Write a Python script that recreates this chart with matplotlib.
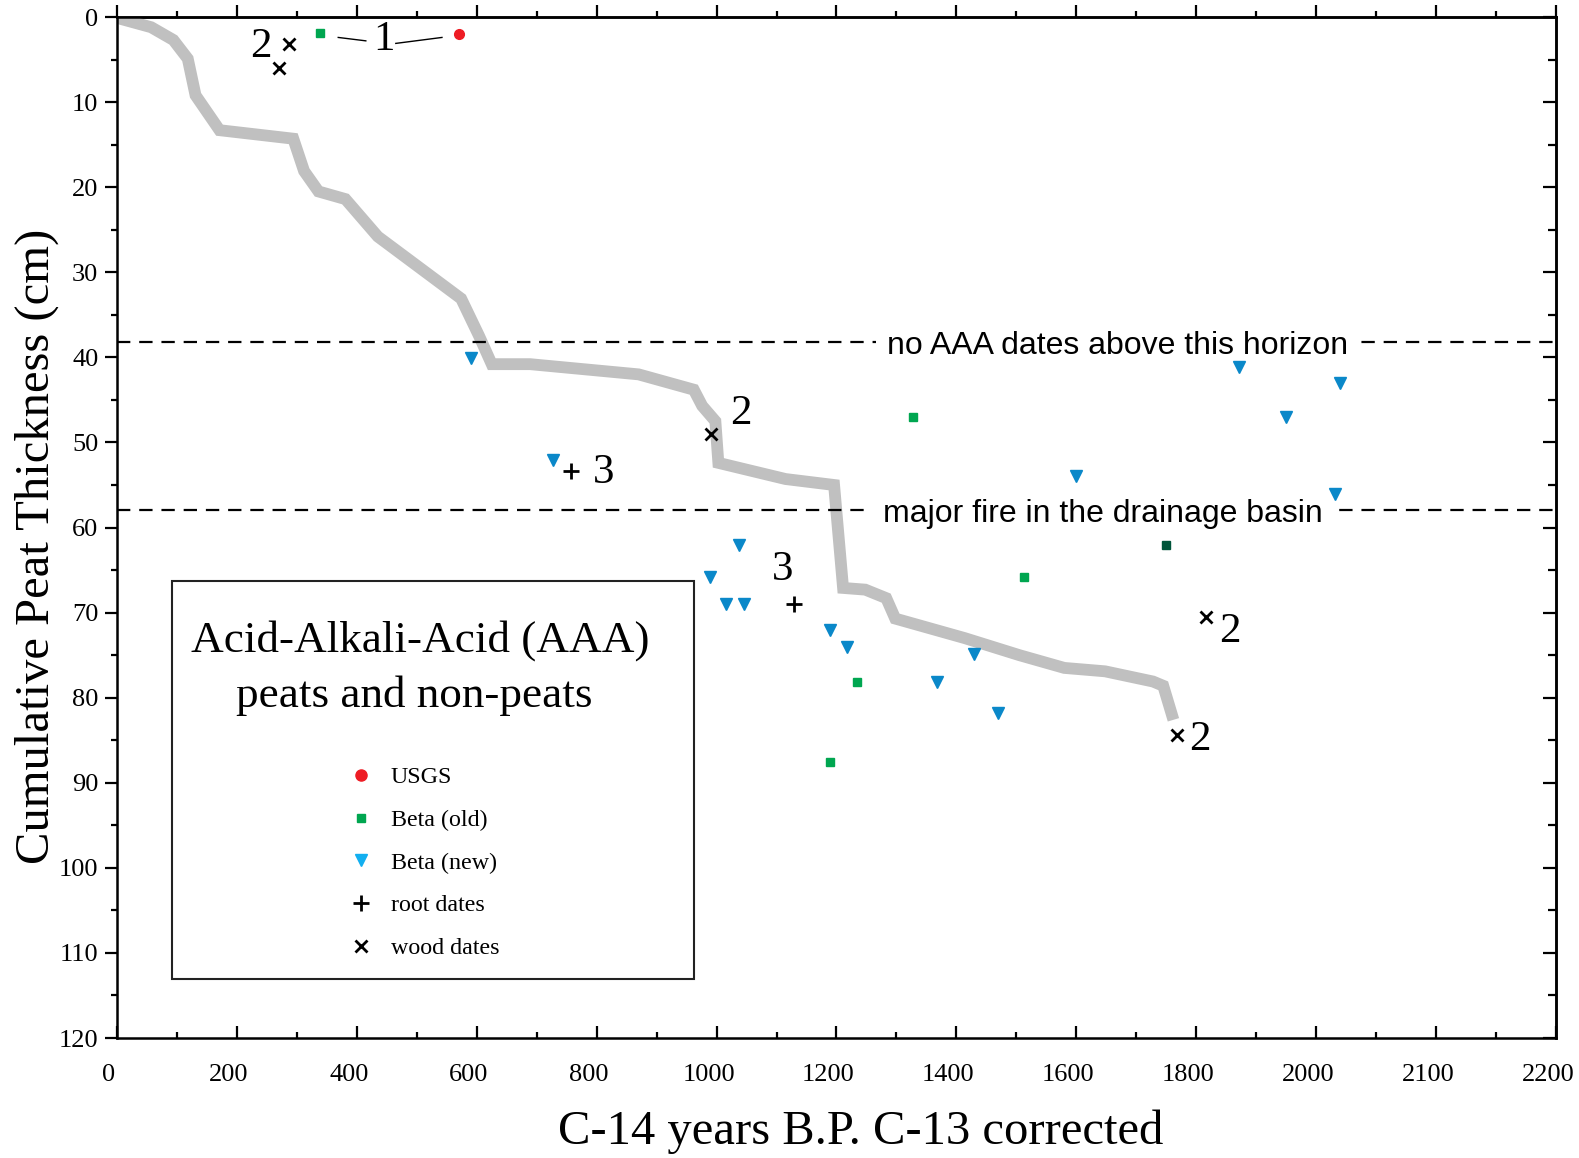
import matplotlib.pyplot as plt
from matplotlib.ticker import MultipleLocator
from matplotlib.lines import Line2D
from matplotlib.patches import Rectangle
from matplotlib.transforms import ScaledTranslation

# age-depth curve (C-14 yr, cm)
curve_x = [0, 57, 94, 118, 131, 171, 294, 312, 336, 381, 435, 574, 604, 625,
           689, 870, 962, 976, 998, 1003, 1056, 1115, 1196, 1211, 1248, 1283,
           1298, 1414, 1505, 1580, 1648, 1728, 1745, 1762]
curve_y = [0.1, 1.2, 2.7, 4.9, 9.2, 13.3, 14.3, 18.1, 20.5, 21.4, 25.8, 33.1,
           37.5, 40.8, 40.8, 42.0, 43.8, 45.7, 47.5, 52.4, 53.3, 54.3, 55.0,
           67.1, 67.3, 68.3, 70.7, 73.0, 75.0, 76.5, 76.9, 78.1, 78.6, 82.6]

usgs_x = [571]
usgs_y = [2.0]

beta_old_x = [338, 1328, 1512, 1234, 1189]
beta_old_y = [1.9, 47.0, 65.8, 78.1, 87.5]
beta_dark_x = [1750]
beta_dark_y = [62.1]

beta_new_x = [590, 727, 1038, 989, 1016, 1046, 1189, 1218, 1367, 1429, 1470,
              1599, 1871, 1950, 2039, 2031]
beta_new_y = [40.1, 52.1, 62.0, 65.8, 69.0, 69.0, 72.1, 74.0, 78.1, 74.9, 81.8,
              54.0, 41.1, 47.0, 43.0, 56.1]

root_x = [757, 1129]
root_y = [53.3, 69.0]

wood_x = [287, 270, 991, 1816, 1768]
wood_y = [3.2, 6.0, 49.0, 70.5, 84.4]

# sample count labels
count_text = ["2", "1", "2", "3", "3", "2", "2"]
count_x = [240, 445, 1040, 812, 1110, 1856, 1806]
count_y = [3.5, 2.7, 46.6, 53.6, 65.0, 72.2, 84.9]

horizon_y = [38.2, 57.9]
horizon_text = ["no AAA dates above this horizon", "major fire in the drainage basin"]
horizon_text_x = [1669, 1644]

x_ticks = list(range(0, 2401, 200))
x_tick_labels = ["0", "200", "400", "600", "800", "1000", "1200", "1400",
                 "1600", "1800", "2000", "2100", "2200"]

SERIF = "Liberation Serif"
SANS = "Liberation Sans"

fig = plt.figure(figsize=(15.79, 11.58), dpi=100)
ax = fig.add_axes([0.0741, 0.1036, 0.9113, 0.8817])

ax.plot(curve_x, curve_y, color="#c0c0c0", lw=8.5, zorder=2,
        solid_joinstyle="miter", solid_capstyle="butt")

for y in horizon_y:
    ax.axhline(y, color="black", lw=1.6, ls=(0, (6, 4)), zorder=3)
down = ScaledTranslation(0, -0.04, fig.dpi_scale_trans)
for t, x, y in zip(horizon_text, horizon_text_x, horizon_y):
    ax.text(x, y, t, fontsize=23, family=SANS, ha="center", va="center",
            zorder=4, transform=ax.transData + down,
            bbox=dict(boxstyle="square,pad=0.35", fc="white", ec="none"))

ax.plot(usgs_x, usgs_y, "o", color="#ee1c24", ms=7, zorder=5)
ax.plot(beta_old_x, beta_old_y, "s", color="#00a650", ms=5.5, zorder=5)
ax.plot(beta_dark_x, beta_dark_y, "s", color="#00553a", ms=5.5, zorder=5)
ax.plot(beta_new_x, beta_new_y, "v", color="#0a88c9", ms=9, zorder=5)
ax.plot(root_x, root_y, "+", color="black", ms=11, mew=2, zorder=5)
ax.plot(wood_x, wood_y, "x", color="black", ms=8, mew=2, zorder=5)

# little leader lines around the "1"
ax.plot([369, 415], [2.4, 2.8], color="black", lw=1)
ax.plot([465, 542], [3.1, 2.4], color="black", lw=1)

for t, x, y in zip(count_text, count_x, count_y):
    ax.text(x, y, t, fontsize=31, family=SERIF, ha="center", va="center", zorder=6)

ax.set_xlim(0, 2400)
ax.set_ylim(120, 0)
ax.set_xticks(x_ticks)
ax.set_xticklabels(x_tick_labels)
ax.xaxis.set_minor_locator(MultipleLocator(100))
ax.yaxis.set_major_locator(MultipleLocator(10))
ax.yaxis.set_minor_locator(MultipleLocator(5))

ax.tick_params(axis="x", which="both", direction="in", top=False, pad=19,
               labelsize=19, width=1.6)
ax.tick_params(axis="y", which="both", direction="out", right=False, pad=5,
               labelsize=19, width=1.6)
ax.tick_params(which="major", length=8.5)
ax.tick_params(which="minor", length=4.5)
for lab in ax.get_xticklabels() + ax.get_yticklabels():
    lab.set_family(SERIF)
off = ScaledTranslation(-0.08, 0, fig.dpi_scale_trans)
for lab in ax.get_xticklabels():
    lab.set_transform(lab.get_transform() + off)

top = ax.secondary_xaxis("top")
top.set_xticks(x_ticks)
top.xaxis.set_minor_locator(MultipleLocator(100))
top.tick_params(which="both", direction="out", labeltop=False, width=1.6)
top.tick_params(which="major", length=8.5)
top.tick_params(which="minor", length=4.5)

right = ax.secondary_yaxis("right")
right.yaxis.set_major_locator(MultipleLocator(10))
right.yaxis.set_minor_locator(MultipleLocator(5))
right.tick_params(which="both", direction="in", labelright=False, width=1.6)
right.tick_params(which="major", length=9.5)
right.tick_params(which="minor", length=5.5)

for sp in list(ax.spines.values()) + [top.spines["top"], right.spines["right"]]:
    sp.set_linewidth(1.8)

ax.set_xlabel("C-14 years B.P. C-13 corrected", fontsize=35, family=SERIF, va="center")
ax.xaxis.set_label_coords(0.517, -0.0917)
ax.set_ylabel("Cumulative Peat Thickness (cm)", fontsize=35, family=SERIF, va="center")
ax.yaxis.set_label_coords(-0.056, 0.482)

# legend box
ax.add_patch(Rectangle((0.0385, 0.0582), 0.3625, 0.3895, transform=ax.transAxes,
                       fill=False, ec="#222222", lw=1.5, zorder=6))
ax.text(0.2106, 0.3896, "Acid-Alkali-Acid (AAA)", transform=ax.transAxes,
        fontsize=32.5, family=SERIF, ha="center", va="center", zorder=6)
ax.text(0.2064, 0.3353, "peats and non-peats", transform=ax.transAxes,
        fontsize=32.5, family=SERIF, ha="center", va="center", zorder=6)

handles = [
    Line2D([], [], ls="", marker="o", color="#ee1c24", ms=8),
    Line2D([], [], ls="", marker="s", color="#00a650", ms=5.5),
    Line2D([], [], ls="", marker="v", color="#12aff0", ms=9),
    Line2D([], [], ls="", marker="+", color="black", ms=11, mew=2),
    Line2D([], [], ls="", marker="x", color="black", ms=8, mew=2),
]
labels = ["USGS", "Beta (old)", "Beta (new)", "root dates", "wood dates"]
leg = ax.legend(handles, labels, loc="upper left", bbox_to_anchor=(0.161, 0.266),
                frameon=False, prop={"family": SERIF, "size": 17.3},
                handlelength=1.0, handletextpad=0.75, labelspacing=0.87,
                borderpad=0, borderaxespad=0)

fig.savefig("out.png", dpi=100)
